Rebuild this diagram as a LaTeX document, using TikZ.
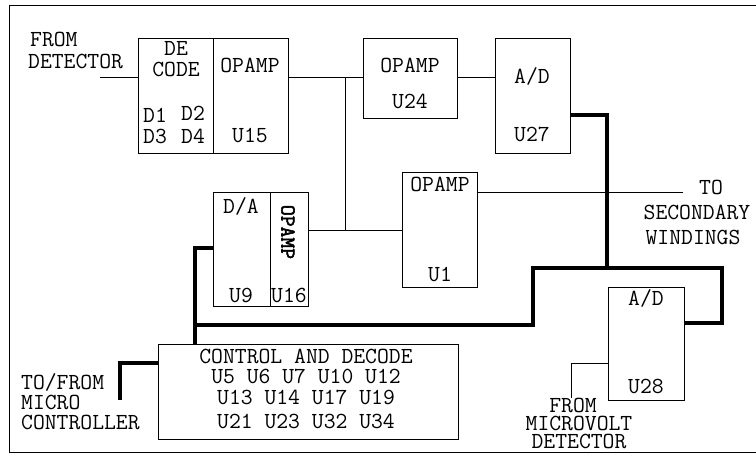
\documentclass[tikz,border=0pt]{standalone}
\usepackage{fontspec}
\setmonofont{Latin Modern Mono}[AutoFakeBold=2.5]
\begin{document}
\begin{tikzpicture}[x=1pt,y=-1pt,
  font=\fontsize{23}{23}\selectfont\ttfamily,
  blk/.style={draw, line width=0.8pt, inner sep=0pt, anchor=north west},
  thinln/.style={line width=0.8pt},
  bus/.style={line width=3.6pt, line join=miter},
  lbl/.style={inner sep=0pt, align=center, text height=13pt, text depth=0pt},
  lft/.style={lbl, anchor=west}]
\useasboundingbox (0,0) rectangle (756,461);
% frame
\coordinate (f1) at (757,5);
\coordinate (f2) at (9,5);
\coordinate (f3) at (9,452);
\coordinate (f4) at (757,452);
\draw[thinln] (f1) -- (f2) -- (f3) -- (f4);
% blocks
\node[blk, minimum width=150pt, minimum height=115pt] (u15) at (138,38) {};
\node[blk, minimum width=94pt, minimum height=80pt] (u24) at (363,38) {};
\node[blk, minimum width=75pt, minimum height=115pt] (u27) at (495,38) {};
\node[blk, minimum width=75pt, minimum height=115pt] (u1) at (402,172) {};
\node[blk, minimum width=95pt, minimum height=114pt] (u9) at (213,192) {};
\node[blk, minimum width=76pt, minimum height=113pt] (u28) at (608,287) {};
\node[blk, minimum width=300pt, minimum height=95pt] (ctl) at (158,344) {};
\draw[thinln] ([xshift=75pt]u15.north west) -- ([xshift=75pt]u15.south west);
\draw[thinln] ([xshift=57pt]u9.north west) -- ([xshift=57pt]u9.south west);
% texts in blocks
\node[lbl] (tde) at (176,49) {DE};
\node[lbl] (tcode) at (176,70) {CODE};
\node[lbl] (td1) at (155,116) {D1};
\node[lbl] (td2) at (193,114) {D2};
\node[lbl] (td3) at (155,137) {D3};
\node[lbl] (td4) at (193,137) {D4};
\node[lbl] (top15) at (250,66) {OPAMP};
\node[lbl] (tu15) at (250,136) {U15};
\node[lbl] (top24) at (410,66) {OPAMP};
\node[lbl] (tu24) at (410,102) {U24};
\node[lbl] (tad27) at (532,77) {A/D};
\node[lbl] (tu27) at (532,135) {U27};
\node[lbl] (top1) at (440,185) {OPAMP};
\node[lbl] (tu1) at (440,275) {U1};
\node[lbl] (tda) at (241,207) {D/A};
\node[lbl] (tu9) at (241,296) {U9};
\node[lbl] (tu16) at (289,296) {U16};
\node[lbl, rotate=-90, font=\fontsize{21}{21}\selectfont\ttfamily\bfseries] (top16) at (288,232) {OPAMP};
\node[lbl] (tad28) at (646,299) {A/D};
\node[lbl] (tu28) at (646,387) {U28};
\node[lbl] (tc1) at (306,357) {CONTROL AND DECODE};
\node[lbl] (tc2) at (306,377) {U5 U6 U7 U10 U12};
\node[lbl] (tc3) at (306,398) {U13 U14 U17 U19};
\node[lbl] (tc4) at (306,422) {U21 U23 U32 U34};
% outside labels
\node[lft] (tfrom) at (30,40) {FROM};
\node[lft] (tdet) at (28,62) {DETECTOR};
\node[lft] (tto1) at (21,383) {TO/FROM};
\node[lft] (tmic) at (21,403) {MICRO};
\node[lft] (tcon) at (21,423) {CONTROLLER};
\node[lbl] (tto) at (711,188) {TO};
\node[lbl] (tsec) at (697,213) {SECONDARY};
\node[lbl] (twin) at (693,238) {WINDINGS};
\node[lbl] (tmv1) at (573,406) {FROM};
\node[lbl] (tmv2) at (579,424) {MICROVOLT};
\node[lbl] (tmv3) at (579,442) {DETECTOR};
% thin connectors
\coordinate (din) at (100,77);
\draw[thinln] (din) -- (din -| u15.west);
\coordinate (j1) at (345,77);
\draw[thinln] (u15.east |- j1) -- (u24.west |- j1);
\draw[thinln] (u24.east |- j1) -- (u27.west |- j1);
\draw[thinln] (j1) -- (j1 |- u1.west);
\draw[thinln] (u9.east |- u1.west) -- (u1.west);
\coordinate (tos) at (683,192);
\draw[thinln] (u1.east |- tos) -- (tos);
\coordinate (m1) at (571,363);
\coordinate (m2) at (571,398);
\draw[thinln] (u28.west |- m1) -- (m1) -- (m2);
% buses
\coordinate (b1) at (607,115);
\coordinate (b2) at (533,268);
\draw[bus] (u27.east |- b1) -- (b1) -- (b1 |- b2);
\coordinate (b3) at (195,248);
\draw[bus] (u9.west |- b3) -- (b3) -- (b3 |- ctl.north);
\coordinate (b4) at (195,325);
\coordinate (b5) at (533,325);
\coordinate (b6) at (722,268);
\coordinate (b7) at (722,323);
\draw[bus] (b4) -- (b5) -- (b2) -- (b6) -- (b7) -- (u28.east |- b7);
\coordinate (b8) at (120,363);
\coordinate (b9) at (120,400);
\draw[bus] (ctl.west |- b8) -- (b8) -- (b9);
\end{tikzpicture}
\end{document}
